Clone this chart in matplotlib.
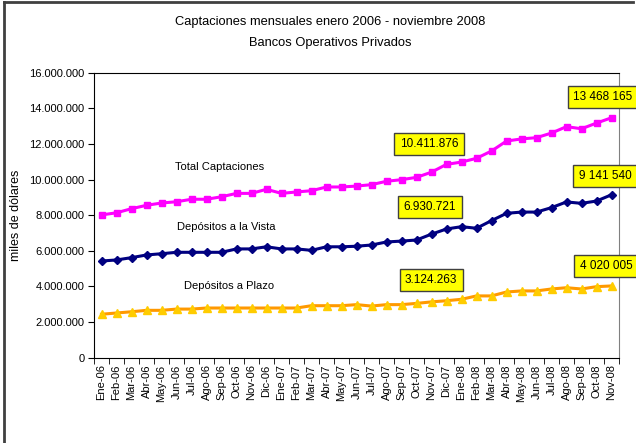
import numpy as np
import matplotlib
matplotlib.use("Agg")
import matplotlib.pyplot as plt
from matplotlib.ticker import FuncFormatter, FixedLocator
from matplotlib.lines import Line2D

plt.rcParams['font.family'] = ['Liberation Sans', 'DejaVu Sans']

months = ["Ene-06", "Feb-06", "Mar-06", "Abr-06", "May-06", "Jun-06", "Jul-06", "Ago-06",
          "Sep-06", "Oct-06", "Nov-06", "Dic-06", "Ene-07", "Feb-07", "Mar-07", "Abr-07",
          "May-07", "Jun-07", "Jul-07", "Ago-07", "Sep-07", "Oct-07", "Nov-07", "Dic-07",
          "Ene-08", "Feb-08", "Mar-08", "Abr-08", "May-08", "Jun-08", "Jul-08", "Ago-08",
          "Sep-08", "Oct-08", "Nov-08"]

# millones de miles de dolares
total = [8.01, 8.13, 8.36, 8.55, 8.68, 8.75, 8.89, 8.89, 9.03, 9.22, 9.22, 9.45,
         9.22, 9.30, 9.37, 9.58, 9.58, 9.63, 9.71, 9.90, 9.99, 10.12, 10.411876, 10.85,
         10.98, 11.19, 11.60, 12.16, 12.28, 12.35, 12.61, 12.97, 12.85, 13.17, 13.468165]
vista = [5.42, 5.48, 5.61, 5.76, 5.83, 5.91, 5.91, 5.91, 5.91, 6.10, 6.10, 6.22,
         6.10, 6.10, 6.02, 6.22, 6.22, 6.25, 6.32, 6.49, 6.54, 6.60, 6.930721, 7.22,
         7.35, 7.26, 7.69, 8.10, 8.17, 8.17, 8.42, 8.74, 8.66, 8.79, 9.14154]
plazo = [2.43, 2.50, 2.57, 2.65, 2.65, 2.72, 2.72, 2.78, 2.78, 2.78, 2.78, 2.78,
         2.78, 2.78, 2.91, 2.91, 2.91, 2.97, 2.89, 2.97, 2.97, 3.04, 3.124263, 3.19,
         3.27, 3.46, 3.46, 3.68, 3.74, 3.74, 3.85, 3.92, 3.85, 3.98, 4.020005]

# etiquetas amarillas: texto, posicion (indice de mes, millones)
callouts = [
    ("10.411.876", 21.83, 12.0),
    ("13 468 165", 33.43, 14.63),
    ("6.930.721", 21.9, 8.455),
    ("9 141 540", 33.57, 10.2),
    ("3.124.263", 21.97, 4.35),
    ("4 020 005", 33.63, 5.14),
]

x = np.arange(len(months))
total = np.array(total) * 1e6
vista = np.array(vista) * 1e6
plazo = np.array(plazo) * 1e6

fig = plt.figure(figsize=(6.36, 4.43), dpi=100)
ax = fig.add_axes([94 / 636, 1 - 357.5 / 443, 525 / 636, 284.8 / 443])

ax.plot(x, total, color="#FF00FF", lw=2.2, marker="s", ms=5, mec="#FF00FF", mfc="#FF00FF")
ax.plot(x, vista, color="#000080", lw=2.2, marker="D", ms=4.5, mec="#000080", mfc="#000080")
ax.plot(x, plazo, color="#FF9900", lw=2.2, marker="^", ms=6, mec="#FFCC00", mfc="#FFCC00")

ax.set_xlim(-0.5, len(months) - 0.5)
ax.set_ylim(0, 16e6)
ax.set_yticks(np.arange(0, 16e6 + 1, 2e6))
ax.yaxis.set_major_formatter(FuncFormatter(lambda v, p: f"{int(v):,}".replace(",", ".")))
ax.set_xticks(x)
ax.set_xticklabels(months, rotation=90, fontsize=8)
ax.xaxis.set_minor_locator(FixedLocator(np.arange(-0.5, len(months), 1)))
ax.tick_params(axis="x", which="major", length=0, pad=5)
ax.tick_params(axis="x", which="minor", length=4, direction="out")
ax.tick_params(axis="y", length=4, direction="out", labelsize=8, pad=3)
ax.set_ylabel("miles de dólares", fontsize=9)
ax.yaxis.set_label_coords((22 - 94) / 525, 0.5)

ax.spines["right"].set_color("#808080")

ax.text(220 / 636, 1 - 167 / 443, "Total Captaciones", fontsize=8, ha="center",
        va="center", transform=fig.transFigure)
ax.text(226 / 636, 1 - 227 / 443, "Depósitos a la Vista", fontsize=8, ha="center",
        va="center", transform=fig.transFigure)
ax.text(229 / 636, 1 - 286 / 443, "Depósitos a Plazo", fontsize=8, ha="center",
        va="center", transform=fig.transFigure)

for label, bx, by in callouts:
    ax.text(bx, by * 1e6, label, fontsize=8.5, ha="center", va="center", clip_on=False,
            bbox=dict(boxstyle="square,pad=0.45", fc="#FFFF00", ec="#404040", lw=1))

fig.text(330 / 636, 1 - 22 / 443, "Captaciones mensuales enero 2006 - noviembre 2008",
         fontsize=9.3, ha="center", va="center")
fig.text(330 / 636, 1 - 43 / 443, "Bancos Operativos Privados", fontsize=9.3,
         ha="center", va="center")

# borde del grafico (izquierda y arriba)
fig.add_artist(Line2D([4 / 636, 4 / 636], [0, 1 - 2 / 443], transform=fig.transFigure,
                      color="#404040", lw=2))
fig.add_artist(Line2D([4 / 636, 633 / 636], [1 - 2 / 443, 1 - 2 / 443],
                      transform=fig.transFigure, color="#404040", lw=2))

fig.savefig("out.png", dpi=100)
